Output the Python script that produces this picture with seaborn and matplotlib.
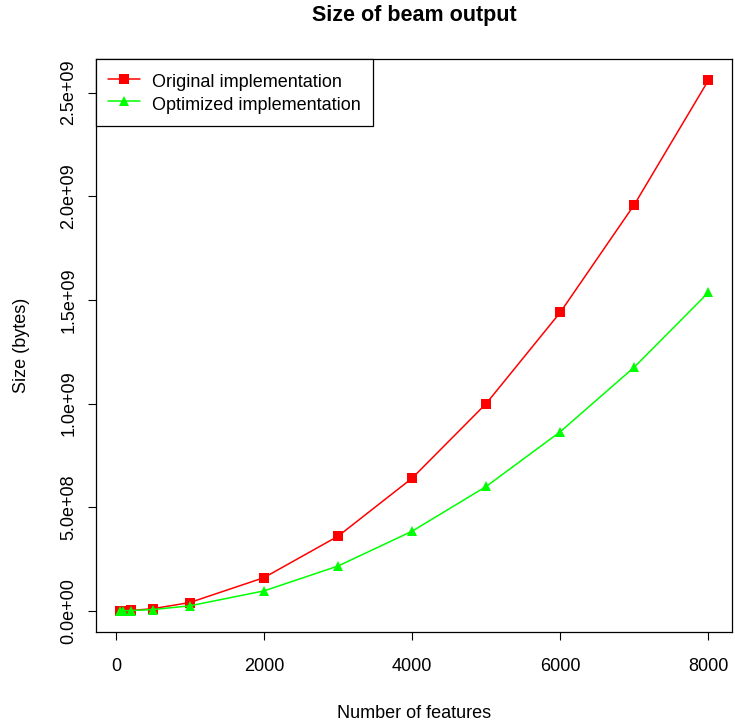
import matplotlib
matplotlib.use("Agg")
import matplotlib.pyplot as plt
import pandas as pd
import seaborn as sns

# Measured beam output size for each feature count
features = [50, 100, 200, 500, 1000, 2000, 3000, 4000, 5000, 6000, 7000, 8000]
original_bytes = [1.0e5, 4.0e5, 1.6e6, 1.0e7, 4.0e7, 1.6e8, 3.6e8, 6.4e8,
                  1.0e9, 1.44e9, 1.96e9, 2.56e9]
optimized_bytes = [6.0e4, 2.4e5, 9.6e5, 6.0e6, 2.4e7, 9.6e7, 2.16e8, 3.84e8,
                   6.0e8, 8.64e8, 1.176e9, 1.536e9]
series_names = ["Original implementation", "Optimized implementation"]

x_ticks = [0, 2000, 4000, 6000, 8000]
x_tick_labels = ["0", "2000", "4000", "6000", "8000"]
y_ticks = [0, 5e8, 1e9, 1.5e9, 2e9, 2.5e9]
y_tick_labels = ["0.0e+00", "5.0e+08", "1.0e+09", "1.5e+09", "2.0e+09", "2.5e+09"]

df = pd.DataFrame({
    "features": features * 2,
    "bytes": original_bytes + optimized_bytes,
    "series": [series_names[0]] * len(features) + [series_names[1]] * len(features),
})

sns.set_style("ticks")
plt.rcParams["font.family"] = ["Liberation Sans", "DejaVu Sans"]
plt.rcParams["text.color"] = "black"
plt.rcParams["axes.labelcolor"] = "black"
plt.rcParams["xtick.color"] = "black"
plt.rcParams["ytick.color"] = "black"

W, H = 735, 722
fig = plt.figure(figsize=(W / 100, H / 100), dpi=100)
ax = fig.add_axes([96 / W, 1 - 632 / H, (732 - 96) / W, (632 - 59) / H])

sns.lineplot(
    data=df, x="features", y="bytes", hue="series", style="series",
    hue_order=series_names, style_order=series_names,
    palette=["#FF0000", "#00FF00"], markers=["s", "^"], dashes=False,
    markersize=7.5, markeredgewidth=0, linewidth=1.1, ax=ax,
)

# R-style 4% padding around the data range
def padded(vals):
    lo, hi = min(vals), max(vals)
    pad = 0.04 * (hi - lo)
    return lo - pad, hi + pad

ax.set_xlim(*padded(features))
ax.set_ylim(*padded(original_bytes + optimized_bytes))

ax.set_xticks(x_ticks)
ax.set_xticklabels(x_tick_labels, fontsize=13, color="black")
ax.set_yticks(y_ticks)
ax.set_yticklabels(y_tick_labels, fontsize=13, rotation=90, va="center", color="black")
ax.tick_params(axis="both", direction="out", length=5.5, width=0.8, color="black")
ax.tick_params(axis="x", pad=13)
ax.tick_params(axis="y", pad=8)

for side in ["left", "right", "top", "bottom"]:
    ax.spines[side].set_visible(True)
    ax.spines[side].set_color("black")
    ax.spines[side].set_linewidth(0.9)

ax.set_xlabel("Number of features", fontsize=13, labelpad=22, color="black")
ax.set_ylabel("Size (bytes)", fontsize=13, labelpad=22, color="black")
fig.text(414 / W, 1 - 15 / H, "Size of beam output", fontsize=15.5,
         fontweight="bold", ha="center", va="center", color="black")

leg = ax.legend(
    loc="upper left", borderaxespad=0, frameon=True, fancybox=False,
    edgecolor="black", framealpha=1, fontsize=13, handlelength=1.75,
    handletextpad=0.7, labelspacing=0.11, handleheight=1.35, borderpad=0.67,
    title=None,
)
leg.get_frame().set_linewidth(0.9)
for t in leg.get_texts():
    t.set_color("black")

fig.savefig("out.png", dpi=100)
